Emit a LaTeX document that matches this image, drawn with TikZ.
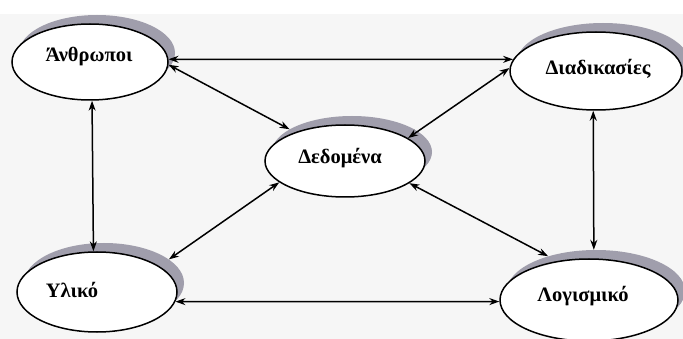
\documentclass[tikz,border=0pt]{standalone}
\usepackage{fontspec}
\setmainfont{Liberation Serif}
\usetikzlibrary{arrows.meta,shapes.geometric}
\definecolor{bgcol}{RGB}{246,246,246}
\definecolor{shadowcol}{RGB}{160,158,172}
\tikzset{
  ent/.style={ellipse, draw=black, line width=1.5pt, fill=white, inner sep=0pt},
  shad/.style={ellipse, fill=shadowcol, draw=none, inner sep=0pt},
  lbl/.style={inner sep=0pt, font=\bfseries\fontsize{20.5}{22}\selectfont},
  link/.style={{Stealth[length=10pt,width=7pt]}-{Stealth[length=10pt,width=7pt]}, line width=1.5pt}
}
\begin{document}
\begin{tikzpicture}[x=1pt,y=-1pt]
\fill[bgcol] (0,0) rectangle (683,339);
\fill[white] (0,0) rectangle (683,14);
\useasboundingbox (0,0) rectangle (683,339);
% shadows
\node[shad, minimum width=156pt, minimum height=76pt] (As) at (97,53) {};
\node[shad, minimum width=172pt, minimum height=78pt] (Ds) at (603,62) {};
\node[shad, minimum width=160pt, minimum height=72pt] (Ms) at (352,152) {};
\node[shad, minimum width=160pt, minimum height=80pt] (Us) at (104,283) {};
\node[shad, minimum width=178pt, minimum height=82pt] (Ls) at (596,291) {};
% ellipses
\node[ent, minimum width=156pt, minimum height=76pt] (A) at (90,62) {};
\node[lbl] at (89,57) {Άνθρωποι};
\node[ent, minimum width=172pt, minimum height=78pt] (D) at (596,71) {};
\node[lbl] at (598,69) {Διαδικασίες};
\node[ent, minimum width=160pt, minimum height=72pt] (M) at (345,161) {};
\node[lbl] at (340,158) {Δεδομένα};
\node[ent, minimum width=160pt, minimum height=80pt] (U) at (97,292) {};
\node[lbl] at (72,290) {Υλικό};
\node[ent, minimum width=178pt, minimum height=82pt] (L) at (589,300) {};
\node[lbl] at (583,296) {Λογισμικό};
% connectors
\draw[link] (A.2) -- (D.172);
\draw[link] (A.-2) -- (Ms.160);
\draw[link] (M.20) -- (D.178);
\draw[link] (M.198) -- (Us.20);
\draw[link] (M.-19) -- (Ls.144);
\draw[link] (A.-87) -- (U.95);
\draw[link] (D.-94) -- (Ls.93);
\draw[link] (U.-7) -- (L.181);
\end{tikzpicture}
\end{document}
